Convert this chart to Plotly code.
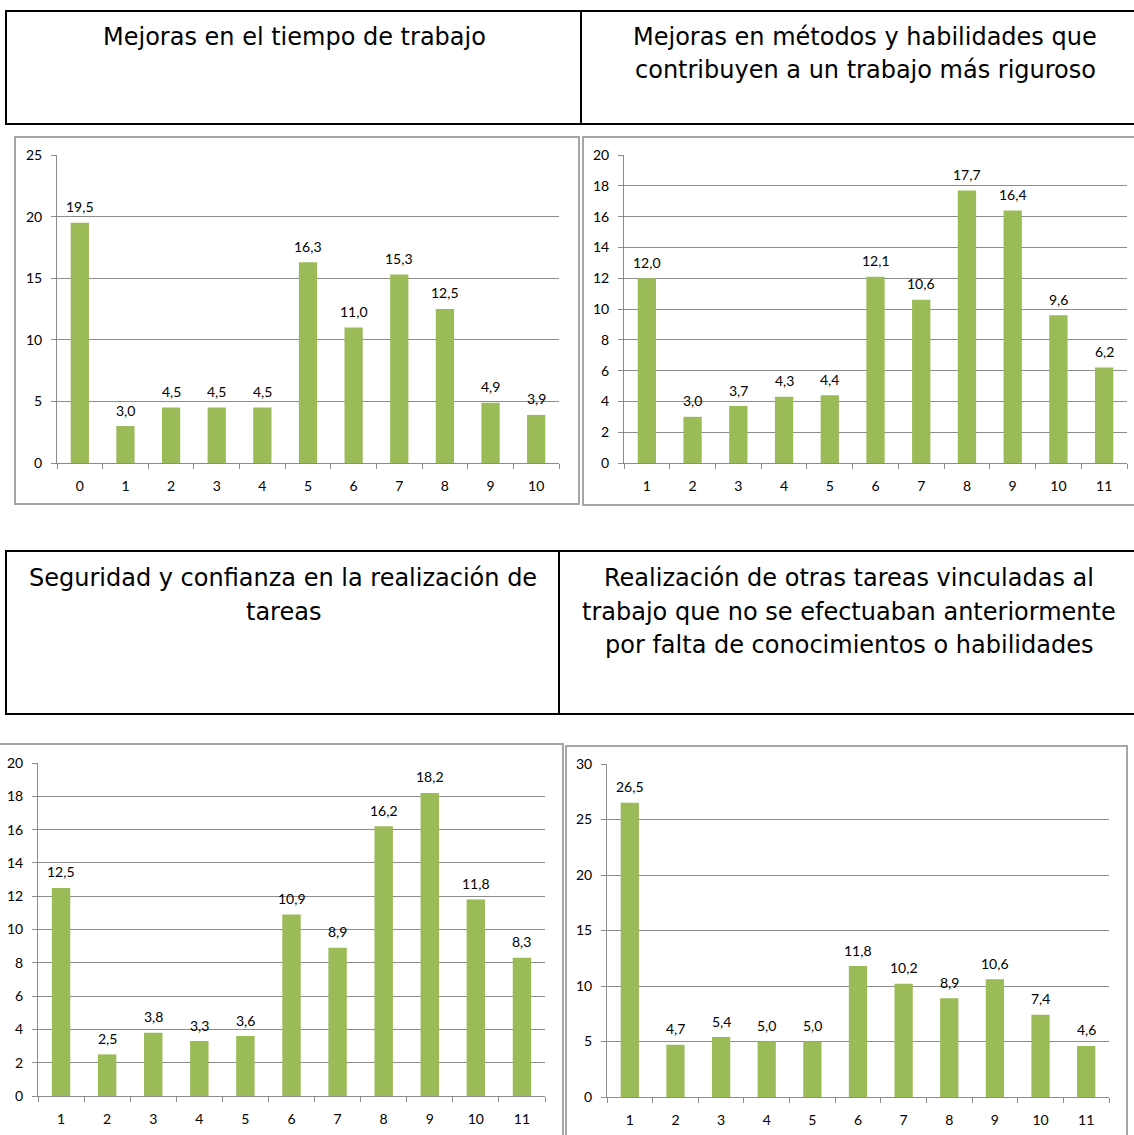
import plotly.graph_objects as go

# ---------------------------------------------------------------
# DATA
# ---------------------------------------------------------------

cats_tiempo = [str(i) for i in range(0, 11)]
cats_resto = [str(i) for i in range(1, 12)]

tiempo = [19.5, 3.0, 4.5, 4.5, 4.5, 16.3, 11.0, 15.3, 12.5, 4.9, 3.9]
metodos = [12.0, 3.0, 3.7, 4.3, 4.4, 12.1, 10.6, 17.7, 16.4, 9.6, 6.2]
seguridad = [12.5, 2.5, 3.8, 3.3, 3.6, 10.9, 8.9, 16.2, 18.2, 11.8, 8.3]
otras = [26.5, 4.7, 5.4, 5.0, 5.0, 11.8, 10.2, 8.9, 10.6, 7.4, 4.6]

titulos = [
    ["Mejoras en el tiempo de trabajo"],
    ["Mejoras en métodos y habilidades que",
     "contribuyen a un trabajo más riguroso"],
    ["Seguridad y confianza en la realización de",
     "tareas"],
    ["Realización de otras tareas vinculadas al",
     "trabajo que no se efectuaban anteriormente",
     "por falta de conocimientos o habilidades"],
]

# ---------------------------------------------------------------
# GEOMETRY (pixels)
# ---------------------------------------------------------------

W, H = 1134, 1135


def px(x):
    return x / W


def py(y):
    return 1 - y / H


GREEN = "#9BBB59"
GRID = "#8C8C8C"
FRAME = "#A6A6A6"
TICK_FONT = dict(family="Lato, Carlito, sans-serif", size=14, color="#000000")
HEAD_FONT = dict(family="DejaVu Sans, Verdana, sans-serif", size=24, color="#000000")

panels = [
    dict(cats=cats_tiempo, vals=tiempo, ymax=25, dtick=5,
         plot=(57, 559, 155, 463), frame=(15, 579, 137, 504)),
    dict(cats=cats_resto, vals=metodos, ymax=20, dtick=2,
         plot=(624, 1127, 155, 463), frame=(583, 1150, 137, 505)),
    dict(cats=cats_resto, vals=seguridad, ymax=20, dtick=2,
         plot=(38, 545, 763, 1096), frame=(-5, 563, 744, 1150)),
    dict(cats=cats_resto, vals=otras, ymax=30, dtick=5,
         plot=(607, 1109, 764, 1097), frame=(566, 1127, 746, 1150)),
]

fig = go.Figure()
shapes = []
annotations = []

for i, p in enumerate(panels, start=1):
    sfx = "" if i == 1 else str(i)
    x0, x1, y0, y1 = p["plot"]
    n = len(p["cats"])

    fig.add_trace(
        go.Bar(
            x=p["cats"],
            y=p["vals"],
            marker=dict(color=GREEN, line=dict(width=0)),
            xaxis="x" + sfx,
            yaxis="y" + sfx,
            hoverinfo="skip",
        )
    )

    # value labels above each bar (comma decimals); x is the category index
    for k, v in enumerate(p["vals"]):
        annotations.append(dict(
            x=k, y=v, xref="x" + sfx, yref="y" + sfx,
            text=f"{v:.1f}".replace(".", ","),
            showarrow=False, yanchor="middle", yshift=16,
            font=TICK_FONT,
        ))

    fig.layout["xaxis" + sfx] = dict(
        domain=[px(x0), px(x1)],
        anchor="y" + sfx,
        type="category",
        range=[-0.5, n - 0.5],
        automargin=False,
        tickson="boundaries",
        ticks="outside",
        ticklen=5,
        tickcolor=GRID,
        showline=True,
        linecolor=GRID,
        linewidth=1,
        showgrid=False,
        tickfont=TICK_FONT,
        ticklabelstandoff=10,
        fixedrange=True,
    )
    fig.layout["yaxis" + sfx] = dict(
        domain=[py(y1), py(y0)],
        anchor="x" + sfx,
        automargin=False,
        range=[0, p["ymax"]],
        dtick=p["dtick"],
        tick0=0,
        ticks="outside",
        ticklen=5,
        tickcolor=GRID,
        showline=True,
        linecolor=GRID,
        linewidth=1,
        showgrid=True,
        gridcolor=GRID,
        gridwidth=1,
        zeroline=False,
        tickfont=TICK_FONT,
        ticklabelstandoff=6,
        fixedrange=True,
    )

    fx0, fx1, fy0, fy1 = p["frame"]
    shapes.append(dict(
        type="rect", xref="paper", yref="paper",
        x0=px(fx0), x1=px(fx1), y0=py(fy1), y1=py(fy0),
        line=dict(color=FRAME, width=2), layer="below",
    ))

# ---------------------------------------------------------------
# HEADER BOXES
# ---------------------------------------------------------------

for top, bottom, divider in [(11, 124, 581), (551, 714, 559)]:
    shapes.append(dict(
        type="rect", xref="paper", yref="paper",
        x0=px(6), x1=px(1150), y0=py(bottom), y1=py(top),
        line=dict(color="#000000", width=2),
    ))
    shapes.append(dict(
        type="line", xref="paper", yref="paper",
        x0=px(divider), x1=px(divider), y0=py(bottom), y1=py(top),
        line=dict(color="#000000", width=2),
    ))

header_pos = [(294, 37), (865, 37), (283, 578), (849, 578)]
for lines, (cx, cy) in zip(titulos, header_pos):
    for k, line in enumerate(lines):
        annotations.append(dict(
            text=line, xref="paper", yref="paper",
            x=px(cx), y=py(cy + 33.5 * k),
            xanchor="center", yanchor="middle",
            showarrow=False, font=HEAD_FONT,
        ))

fig.update_layout(
    width=W,
    height=H,
    margin=dict(l=0, r=0, t=0, b=0, autoexpand=False),
    paper_bgcolor="white",
    plot_bgcolor="white",
    showlegend=False,
    bargap=0.6,
    shapes=shapes,
    annotations=annotations,
)

fig.write_html(
    "out.html",
    config={"displayModeBar": False},
    post_script="document.body.style.margin = '0';",
)
